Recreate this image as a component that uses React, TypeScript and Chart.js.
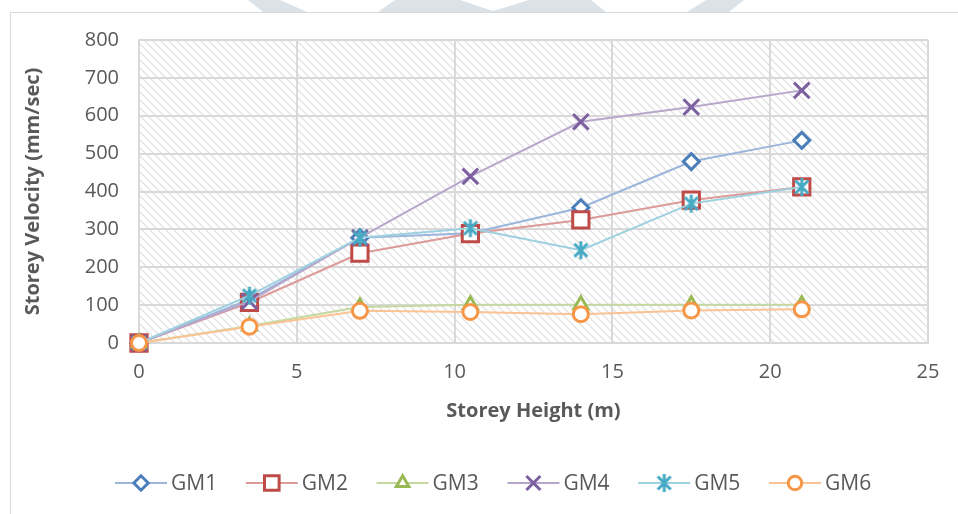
import React, { useEffect, useRef } from "react";
import { Chart, registerables } from "chart.js";
import { drawPoint } from "chart.js/helpers";

Chart.register(...registerables);

const storeyHeights = [0, 3.5, 7, 10.5, 14, 17.5, 21];
const seriesNames = ["GM1", "GM2", "GM3", "GM4", "GM5", "GM6"];
const gm1 = [0, 115, 278, 290, 357, 479, 535];
const gm2 = [0, 107, 237, 289, 325, 377, 412];
const gm3 = [0, 45, 95, 101, 101, 101, 101];
const gm4 = [0, 110, 278, 440, 584, 623, 667];
const gm5 = [0, 125, 278, 303, 245, 368, 412];
const gm6 = [0, 43, 85, 82, 76, 86, 89];
const xTitle = "Storey Height (m)";
const yTitle = "Storey Velocity (mm/sec)";

const markerColors = ["#4a7ebb", "#be4b48", "#98b954", "#7d60a0", "#46aac5", "#f79646"];
const lineColors = ["#9bb5db", "#dc9a98", "#c4d8a0", "#b7a7cc", "#9dd1e0", "#fac394"];

const FONT = "'Open Sans', 'Noto Sans', sans-serif";
const TEXT = "#595959";

function makeAsterisk(color: string): HTMLCanvasElement {
  const c = document.createElement("canvas");
  c.width = 20;
  c.height = 20;
  const g = c.getContext("2d")!;
  g.strokeStyle = color;
  g.lineWidth = 3;
  g.beginPath();
  g.moveTo(3.5, 3.5);
  g.lineTo(16.5, 16.5);
  g.moveTo(16.5, 3.5);
  g.lineTo(3.5, 16.5);
  g.moveTo(10, 1);
  g.lineTo(10, 19);
  g.stroke();
  return c;
}

function makeHatch(): CanvasPattern | string {
  const c = document.createElement("canvas");
  c.width = 8;
  c.height = 8;
  const g = c.getContext("2d")!;
  g.fillStyle = "#ffffff";
  g.fillRect(0, 0, 8, 8);
  g.strokeStyle = "#e2e2e2";
  g.lineWidth = 1.3;
  g.beginPath();
  g.moveTo(-1, -1);
  g.lineTo(9, 9);
  g.moveTo(-1, 7);
  g.lineTo(1, 9);
  g.moveTo(7, -1);
  g.lineTo(9, 1);
  g.stroke();
  const p = g.createPattern(c, "repeat");
  return p || "#ffffff";
}

export default function App() {
  const ref = useRef<HTMLCanvasElement | null>(null);

  useEffect(() => {
    if (!ref.current) return;
    const asterisk = makeAsterisk(markerColors[4]);
    const styles: any[] = ["rectRot", "rect", "triangle", "crossRot", asterisk, "circle"];
    const radii = [8, 11.5, 8, 11, 9, 7.5];
    const borders = [3, 3, 3, 3, 3, 3];
    const values = [gm1, gm2, gm3, gm4, gm5, gm6];
    const hatch = makeHatch();

    const bgPlugin = {
      id: "bg",
      beforeDraw(chart: any) {
        const { ctx, chartArea } = chart;
        ctx.save();
        ctx.fillStyle = "#ffffff";
        ctx.fillRect(0, 0, chart.width, chart.height);
        ctx.fillStyle = "#dce3e8";
        ctx.beginPath();
        ctx.moveTo(248, 0); ctx.lineTo(280, 0); ctx.lineTo(307, 12); ctx.lineTo(263, 12); ctx.closePath();
        ctx.moveTo(378, 12); ctx.lineTo(395, 0); ctx.lineTo(460, 0); ctx.lineTo(493, 11); ctx.lineTo(529, 0);
        ctx.lineTo(591, 0); ctx.lineTo(606, 12); ctx.closePath();
        ctx.moveTo(706, 0); ctx.lineTo(744, 0); ctx.lineTo(729, 12); ctx.lineTo(687, 12); ctx.closePath();
        ctx.fill();
        ctx.fillStyle = "#ffffff";
        ctx.fillRect(10, 12, chart.width, chart.height);
        ctx.strokeStyle = "#d9d9d9";
        ctx.lineWidth = 1;
        ctx.beginPath();
        ctx.moveTo(10.5, chart.height);
        ctx.lineTo(10.5, 12.5);
        ctx.lineTo(chart.width, 12.5);
        ctx.stroke();
        ctx.fillStyle = hatch as any;
        ctx.fillRect(chartArea.left, chartArea.top, chartArea.right - chartArea.left, chartArea.bottom - chartArea.top);
        ctx.restore();
      },
    };

    const legendPlugin = {
      id: "customLegend",
      afterDraw(chart: any) {
        const { ctx } = chart;
        ctx.save();
        const y = 483;
        seriesNames.forEach((name, i) => {
          const x0 = 115 + i * 130.8;
          ctx.strokeStyle = lineColors[i];
          ctx.lineWidth = 2;
          ctx.beginPath();
          ctx.moveTo(x0, y);
          ctx.lineTo(x0 + 52, y);
          ctx.stroke();
          ctx.fillStyle = "#ffffff";
          ctx.strokeStyle = markerColors[i];
          ctx.lineWidth = borders[i];
          drawPoint(
            ctx,
            { pointStyle: styles[i], rotation: 0, radius: radii[i] * 0.9, borderWidth: borders[i] },
            x0 + 26,
            y
          );
          ctx.fillStyle = TEXT;
          ctx.font = `21px ${FONT}`;
          ctx.textBaseline = "middle";
          ctx.textAlign = "left";
          ctx.fillText(name, x0 + 56, y + 1);
        });
        ctx.restore();
      },
    };

    const chart = new Chart(ref.current, {
      type: "line",
      data: {
        datasets: seriesNames.map((name, i) => ({
          label: name,
          data: storeyHeights.map((x, j) => ({ x, y: values[i][j] })),
          borderColor: lineColors[i],
          borderWidth: 2,
          backgroundColor: "#ffffff",
          pointStyle: styles[i],
          pointRadius: radii[i],
          pointBorderWidth: borders[i],
          pointBorderColor: markerColors[i],
          pointBackgroundColor: "#ffffff",
          tension: 0,
          fill: false,
          clip: false,
          order: 6 - i,
        })),
      },
      options: {
        animation: false,
        responsive: false,
        events: [],
        layout: { padding: { left: 0, top: 40, right: 30, bottom: 0 } },
        plugins: { legend: { display: false }, tooltip: { enabled: false } },
        scales: {
          x: {
            type: "linear",
            min: 0,
            max: 25,
            ticks: { stepSize: 5, color: TEXT, font: { family: FONT, size: 20 }, padding: 17 },
            grid: { color: "#d9d9d9", lineWidth: 2, drawTicks: false },
            border: { color: "#d9d9d9", width: 2 },
            title: {
              display: true,
              text: xTitle,
              color: TEXT,
              font: { family: FONT, size: 20, weight: "bold" },
              padding: { top: 0, bottom: 91 },
            },
            afterFit(scale: any) {
              scale.height = 171;
            },
          },
          y: {
            type: "linear",
            min: 0,
            max: 800,
            ticks: { stepSize: 100, color: TEXT, font: { family: FONT, size: 20 }, padding: 20 },
            grid: { color: "#d9d9d9", lineWidth: 2, drawTicks: false },
            border: { color: "#d9d9d9", width: 2 },
            title: {
              display: true,
              text: yTitle,
              color: TEXT,
              font: { family: FONT, size: 20, weight: "bold" },
              padding: { top: 21, bottom: 0 },
            },
            afterFit(scale: any) {
              scale.width = 139;
            },
          },
        },
      } as any,
      plugins: [bgPlugin, legendPlugin],
    });
    return () => chart.destroy();
  }, []);

  return (
    <div style={{ position: "fixed", left: 0, top: 0, width: 958, height: 514, background: "#fff" }}>
      <canvas ref={ref} width={958} height={514} style={{ width: 958, height: 514, display: "block" }} />
    </div>
  );
}
